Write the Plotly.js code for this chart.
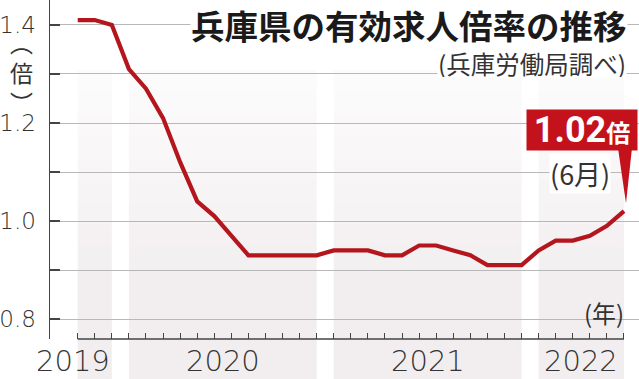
<!DOCTYPE html>
<html>
<head>
<meta charset="utf-8">
<script src="https://cdn.plot.ly/plotly-3.0.1.min.js"></script>
<style>
  html, body { margin: 0; padding: 0; background: #fff; }
  #chart { width: 639px; height: 379px; }
</style>
</head>
<body>
<div id="chart"></div>
<script>
// Months (Oct 2019 – Jun 2022)
const months = [
  '2019-10','2019-11','2019-12',
  '2020-01','2020-02','2020-03','2020-04','2020-05','2020-06','2020-07','2020-08','2020-09','2020-10','2020-11','2020-12',
  '2021-01','2021-02','2021-03','2021-04','2021-05','2021-06','2021-07','2021-08','2021-09','2021-10','2021-11','2021-12',
  '2022-01','2022-02','2022-03','2022-04','2022-05','2022-06'
];
// Effective job-openings-to-applicants ratio (Hyogo)
const ratio = [
  1.41, 1.41, 1.40,
  1.31, 1.27, 1.21, 1.12, 1.04, 1.01, 0.97, 0.93, 0.93, 0.93, 0.93, 0.93,
  0.94, 0.94, 0.94, 0.93, 0.93, 0.95, 0.95, 0.94, 0.93, 0.91, 0.91, 0.91,
  0.94, 0.96, 0.96, 0.97, 0.99, 1.02
];
const yearLabels = ['2019', '2020', '2021', '2022'];
const yTickVals = [0.8, 0.9, 1.0, 1.1, 1.2, 1.3, 1.4];
const yTickText = ['0.8', '', '1.0', '', '1.2', '', '1.4'];

const xIdx = months.map((m, i) => i);
const W = 639, H = 379;
const M = {l: 50, r: 0, t: 0, b: 40};
const plotW = W - M.l - M.r, plotH = H - M.t - M.b;
const xRange = [-1.623, 32.879];
const yRange = [0.7592, 1.451];
const pxPerX = plotW / (xRange[1] - xRange[0]);
const pxPerY = plotH / (yRange[1] - yRange[0]);
const px2paperX = p => (p - M.l) / plotW;
const py2paperY = p => 1 - (p - M.t) / plotH;

const ink = '#333333';
const red = '#b4161d';
const boxRed = '#c3121c';

// year bands (soft vertical gradient, lighter at top)
const shapes = [];
const annotations = [];
const bandTop = 70, bandBot = 379, nSteps = 14;
const cTop = [253, 252, 252], cBot = [242, 238, 240];
yearLabels.forEach((yr, k) => {
  const idxs = months.map((m, i) => m.startsWith(yr) ? i : -1).filter(i => i >= 0);
  const x0 = idxs[0], x1 = idxs[idxs.length - 1];
  for (let s = 0; s < nSteps; s++) {
    const t0 = bandTop + (bandBot - bandTop) * s / nSteps;
    const t1 = bandTop + (bandBot - bandTop) * (s + 1) / nSteps;
    const f = Math.min(1, (s + 0.5) / (nSteps * 0.7));
    const c = cTop.map((v, j) => Math.round(v + (cBot[j] - v) * f));
    shapes.push({type: 'rect', layer: 'below', xref: 'x', yref: 'paper',
      x0: x0, x1: x1, y0: py2paperY(t1 + 0.5), y1: py2paperY(t0),
      fillcolor: `rgb(${c[0]},${c[1]},${c[2]})`, line: {width: 0}});
  }
  annotations.push({
    xref: 'x', yref: 'paper', x: k === 0 ? x1 : (x0 + x1) / 2,
    xanchor: k === 0 ? 'right' : 'center',
    y: py2paperY(361), yanchor: 'middle', showarrow: false,
    text: yr, font: {family: 'DejaVu Sans', size: 29, color: ink, weight: 300}
  });
});

// x baseline
shapes.push({type: 'line', xref: 'x', yref: 'paper', x0: 0, x1: xIdx[xIdx.length - 1],
  y0: 0, y1: 0, line: {color: '#444', width: 1.5}, layer: 'above'});

// callout pointer
const lastI = xIdx.length - 1, lastV = ratio[lastI];
const tipY = lastV + 8 / pxPerY;
const baseY = yRange[1] - (148 - M.t) / pxPerY;
shapes.push({type: 'path', xref: 'x', yref: 'y', layer: 'above',
  path: `M ${lastI - 6 / pxPerX},${baseY} L ${lastI + 8 / pxPerX},${baseY} L ${lastI + 2 / pxPerX},${tipY} Z`,
  fillcolor: boxRed, line: {width: 0}});

annotations.push(
  {xref: 'paper', yref: 'paper', x: px2paperX(628), xanchor: 'right', y: py2paperY(24.5), yanchor: 'middle',
   showarrow: false, bgcolor: '#fff', borderpad: 0, height: 38,
   text: '兵庫県の有効求人倍率の推移',
   font: {family: 'Noto Sans CJK JP', size: 33.5, color: '#1a1a1a', weight: 'bold'}},
  {xref: 'paper', yref: 'paper', x: px2paperX(627), xanchor: 'right', y: py2paperY(62.5), yanchor: 'middle',
   showarrow: false, bgcolor: '#fff', borderpad: 0, height: 28,
   text: '(兵庫労働局調べ)',
   font: {family: 'Noto Sans CJK JP', size: 24.5, color: ink}},
  {xref: 'paper', yref: 'paper', x: px2paperX(582), y: py2paperY(130), xanchor: 'center', yanchor: 'middle',
   showarrow: false, bgcolor: boxRed, width: 110, height: 40, borderpad: 0,
   text: '<b>' + lastV.toFixed(2) + '</b><span style="font-size:24px"><b>倍</b></span>',
   font: {family: 'Roboto, Noto Sans CJK JP', size: 36, color: '#fff'}},
  {xref: 'paper', yref: 'paper', x: px2paperX(580), y: py2paperY(173), xanchor: 'center', yanchor: 'middle',
   showarrow: false, bgcolor: '#fff', borderpad: 0,
   text: '(' + parseInt(months[lastI].slice(5), 10) + '月)',
   font: {family: 'Noto Sans CJK JP', size: 27, color: ink}},
  {xref: 'paper', yref: 'paper', x: px2paperX(626), xanchor: 'right', y: py2paperY(312), yanchor: 'middle',
   showarrow: false, text: '(年)', font: {family: 'Noto Sans CJK JP', size: 24, color: ink}},
  {xref: 'paper', yref: 'paper', x: px2paperX(21), y: py2paperY(72), xanchor: 'center', yanchor: 'middle',
   showarrow: false, text: '︵<br>倍<br>︶',
   font: {family: 'Noto Sans CJK JP', size: 23, color: ink}}
);

const trace = {
  type: 'scatter', mode: 'lines', x: xIdx, y: ratio,
  line: {color: red, width: 4.2}, hoverinfo: 'skip', cliponaxis: false
};

const layout = {
  width: W, height: H, margin: M,
  paper_bgcolor: '#fff', plot_bgcolor: 'rgba(0,0,0,0)',
  showlegend: false,
  xaxis: {type: 'linear', range: xRange, showgrid: false, zeroline: false, showline: false,
    tickmode: 'array', tickvals: xIdx, ticks: 'inside', ticklen: 6, tickwidth: 1, tickcolor: '#444',
    showticklabels: false, fixedrange: true},
  yaxis: {range: yRange, showgrid: true, gridcolor: '#b8b8b8', gridwidth: 1, zeroline: false,
    showline: true, linecolor: '#444', linewidth: 1.5,
    tickmode: 'array', tickvals: yTickVals, ticktext: yTickText,
    ticks: 'inside', ticklen: 10, tickwidth: 1.5, tickcolor: '#444',
    tickfont: {family: 'DejaVu Sans', size: 23, color: ink, weight: 300}, ticklabelstandoff: 8, fixedrange: true},
  shapes: shapes,
  annotations: annotations
};

Plotly.newPlot('chart', [trace], layout, {displayModeBar: false, staticPlot: true});
</script>
</body>
</html>
